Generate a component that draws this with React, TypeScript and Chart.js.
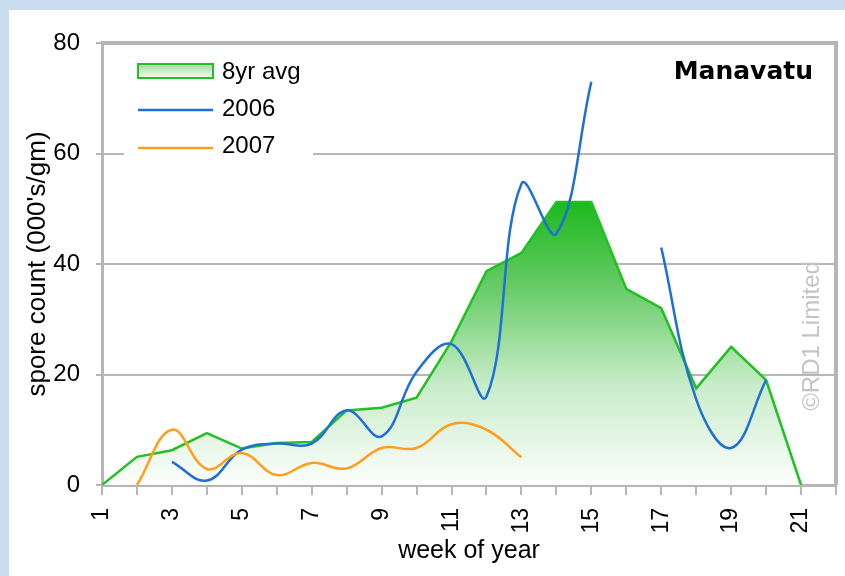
import React, { useEffect, useRef } from "react";
import { Chart, registerables } from "chart.js";

Chart.register(...registerables);

// ---- data ----
const weeks = [1, 2, 3, 4, 5, 6, 7, 8, 9, 10, 11, 12, 13, 14, 15, 16, 17, 18, 19, 20, 21];
const avg8yr = [0, 5.1, 6.3, 9.4, 6.6, 7.6, 7.8, 13.5, 14, 15.8, 26, 38.7, 42, 51.2, 51.2, 35.5, 32, 17.5, 25, 19, 0];
const y2006: (number | null)[] = [null, null, 4.2, 0.8, 6.4, 7.5, 7.5, 13.5, 8.8, 20.5, 25.5, 16, 54.5, 45.5, 73, null, 43, 15.5, 6.7, 19, null];
const y2007: (number | null)[] = [null, 0, 10, 2.9, 5.8, 1.8, 4, 3, 6.7, 6.7, 11, 10, 5, null, null, null, null, null, null, null, null];
const xMin = 1;
const xMax = 22;
const xLabelWeeks = [1, 3, 5, 7, 9, 11, 13, 15, 17, 19, 21];
const yTickValues = [0, 20, 40, 60, 80];
const seriesNames = ["8yr avg", "2006", "2007"];
const chartTitle = "Manavatu";
const watermark = "\u00A9RD1 Limited";
const xTitle = "week of year";
const yTitle = "spore count (000's/gm)";

const GREEN = "#22c022";
const BLUE = "#1e6fd6";
const ORANGE = "#ff9e1c";
const GRID = "#b6b6b6";
const SANS = '"Liberation Sans", Arial, sans-serif';
const NARROW = '"Liberation Sans Narrow", "Liberation Sans", Arial, sans-serif';

const toPoints = (vals: (number | null)[]) => weeks.map((w, i) => ({ x: w, y: vals[i] }));

const decorPlugin = {
  id: "decor",
  beforeDraw(chart: any) {
    const c = chart.ctx;
    c.save();
    c.fillStyle = "#cadcf0";
    c.fillRect(0, 0, chart.width, chart.height);
    c.fillStyle = "#ffffff";
    c.fillRect(9, 10, chart.width - 9, chart.height - 10);
    c.restore();
  },
  beforeDatasetsDraw(chart: any) {
    const c = chart.ctx;
    c.save();
    c.fillStyle = "#ffffff";
    c.fillRect(124, 48, 189, 112);
    c.restore();
  },
  afterDraw(chart: any) {
    const c = chart.ctx;
    const { left, right, top, bottom } = chart.chartArea;
    c.save();
    // top and right frame
    c.strokeStyle = GRID;
    c.lineWidth = 4;
    c.beginPath();
    c.moveTo(left - 1, top);
    c.lineTo(right, top);
    c.lineTo(right, bottom);
    c.stroke();

    // legend
    const lx = 138;
    const lw = 75;
    const g = c.createLinearGradient(0, 64, 0, 78);
    g.addColorStop(0, "#9fdc9f");
    g.addColorStop(1, "#f4fbf4");
    c.fillStyle = g;
    c.fillRect(lx, 64, lw, 14);
    c.strokeStyle = GREEN;
    c.lineWidth = 2;
    c.strokeRect(lx, 64, lw, 14);
    c.lineWidth = 2.5;
    c.strokeStyle = BLUE;
    c.beginPath();
    c.moveTo(lx, 110);
    c.lineTo(lx + lw, 110);
    c.stroke();
    c.strokeStyle = ORANGE;
    c.beginPath();
    c.moveTo(lx, 148);
    c.lineTo(lx + lw, 148);
    c.stroke();
    c.fillStyle = "#000";
    c.font = `24px ${SANS}`;
    c.textAlign = "left";
    c.textBaseline = "alphabetic";
    c.fillText(seriesNames[0], 222, 79);
    c.fillText(seriesNames[1], 222, 116);
    c.fillText(seriesNames[2], 222, 153);

    // title
    c.font = 'bold 25px "DejaVu Sans", sans-serif';
    c.textAlign = "right";
    c.fillText(chartTitle, 813, 79);

    // watermark
    c.translate(812, 336);
    c.rotate(-Math.PI / 2);
    c.fillStyle = "#c4c4c4";
    c.font = `24px ${SANS}`;
    c.textAlign = "center";
    c.textBaseline = "middle";
    c.fillText(watermark, 0, 0);
    c.restore();
  },
};

export default function App() {
  const ref = useRef<HTMLCanvasElement | null>(null);
  useEffect(() => {
    if (!ref.current) return;
    const chart = new Chart(ref.current, {
      type: "line",
      data: {
        datasets: [
          {
            label: seriesNames[0],
            data: toPoints(avg8yr),
            borderColor: GREEN,
            borderWidth: 2.5,
            tension: 0,
            pointRadius: 0,
            fill: "origin",
            order: 3,
            backgroundColor: (ctx: any) => {
              const ch = ctx.chart;
              const area = ch.chartArea;
              if (!area) return "rgba(40,180,40,0.4)";
              const t = ch.scales.y.getPixelForValue(52);
              const gr = ch.ctx.createLinearGradient(0, t, 0, area.bottom);
              gr.addColorStop(0, "rgb(24,184,24)");
              gr.addColorStop(0.3, "rgb(100,202,100)");
              gr.addColorStop(0.65, "rgb(200,236,200)");
              gr.addColorStop(1, "rgb(252,254,252)");
              return gr;
            },
          },
          {
            label: seriesNames[1],
            data: toPoints(y2006),
            borderColor: BLUE,
            borderWidth: 2.5,
            tension: 0.4,
            pointRadius: 0,
            fill: false,
            spanGaps: false,
            order: 2,
          },
          {
            label: seriesNames[2],
            data: toPoints(y2007),
            borderColor: ORANGE,
            borderWidth: 2.5,
            tension: 0.4,
            pointRadius: 0,
            fill: false,
            spanGaps: false,
            order: 1,
          },
        ],
      },
      options: {
        animation: false,
        responsive: false,
        devicePixelRatio: 1,
        layout: { padding: { top: 43, right: 9, left: 0, bottom: 0 } },
        plugins: { legend: { display: false }, tooltip: { enabled: false } },
        scales: {
          x: {
            type: "linear",
            min: xMin,
            max: xMax,
            afterFit: (s: any) => {
              s.height = 91;
              s.paddingLeft = 0;
              s.paddingRight = 0;
            },
            ticks: {
              stepSize: 1,
              autoSkip: false,
              minRotation: 90,
              maxRotation: 90,
              padding: 13,
              color: "#000",
              font: { family: NARROW, size: 23 },
              callback: (v: any) => (xLabelWeeks.includes(Number(v)) ? String(v) : ""),
            },
            grid: { drawOnChartArea: false, drawTicks: true, tickLength: 10, color: GRID, lineWidth: 2 },
            border: { display: true, color: GRID, width: 3 },
            title: {
              display: true,
              text: xTitle,
              color: "#000",
              font: { family: SANS, size: 25 },
              padding: { top: 0, bottom: 10 },
            },
          },
          y: {
            type: "linear",
            min: yTickValues[0],
            max: yTickValues[yTickValues.length - 1],
            afterFit: (s: any) => {
              s.width = 102;
              s.paddingTop = 0;
              s.paddingBottom = 0;
            },
            afterBuildTicks: (s: any) => {
              s.ticks = yTickValues.map((v) => ({ value: v }));
            },
            ticks: {
              padding: 16,
              color: "#000",
              font: { family: SANS, size: 24 },
            },
            grid: { color: GRID, lineWidth: 2, tickLength: 6 },
            border: { display: true, color: GRID, width: 3 },
            title: {
              display: true,
              text: yTitle,
              color: "#000",
              font: { family: SANS, size: 26 },
              padding: { top: 22, bottom: 0 },
            },
          },
        },
      },
      plugins: [decorPlugin],
    } as any);
    return () => chart.destroy();
  }, []);

  return (
    <div style={{ position: "fixed", left: 0, top: 0, width: 845, height: 576 }}>
      <canvas ref={ref} width={845} height={576} style={{ width: 845, height: 576, display: "block" }} />
    </div>
  );
}
